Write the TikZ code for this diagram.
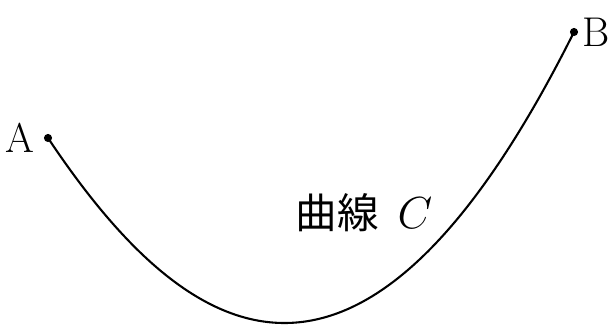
\documentclass[tikz,border=0pt]{standalone}
\usepackage{fontspec}
\newfontfamily\jpfont{Noto Sans CJK JP}
\usetikzlibrary{positioning}
\begin{document}
\begin{tikzpicture}[x=0.01352cm, y=-0.01352cm, font=\fontsize{16}{19}\selectfont]
    % Fix the frame (pixel-like units, y downwards)
    \useasboundingbox (0,0) rectangle (614,327);

    % End points of the curve
    \coordinate (A) at (48,138);
    \coordinate (B) at (574,32);

    % The curve C itself
    \draw[thick] (A) .. controls (186.5,345.7) and (360.5,459) .. (B);

    % Mark the end points as solid black dots
    \filldraw[black] (A) circle (3.5);
    \filldraw[black] (B) circle (3.5);

    % Labels
    \node[left=5pt of A, inner sep=0pt] (labelA) {A};
    \node[right=3pt of B, inner sep=0pt] (labelB) {B};
    \node (curvename) at (364,213) {\jpfont 曲線\ \ $C$};
\end{tikzpicture}
\end{document}
